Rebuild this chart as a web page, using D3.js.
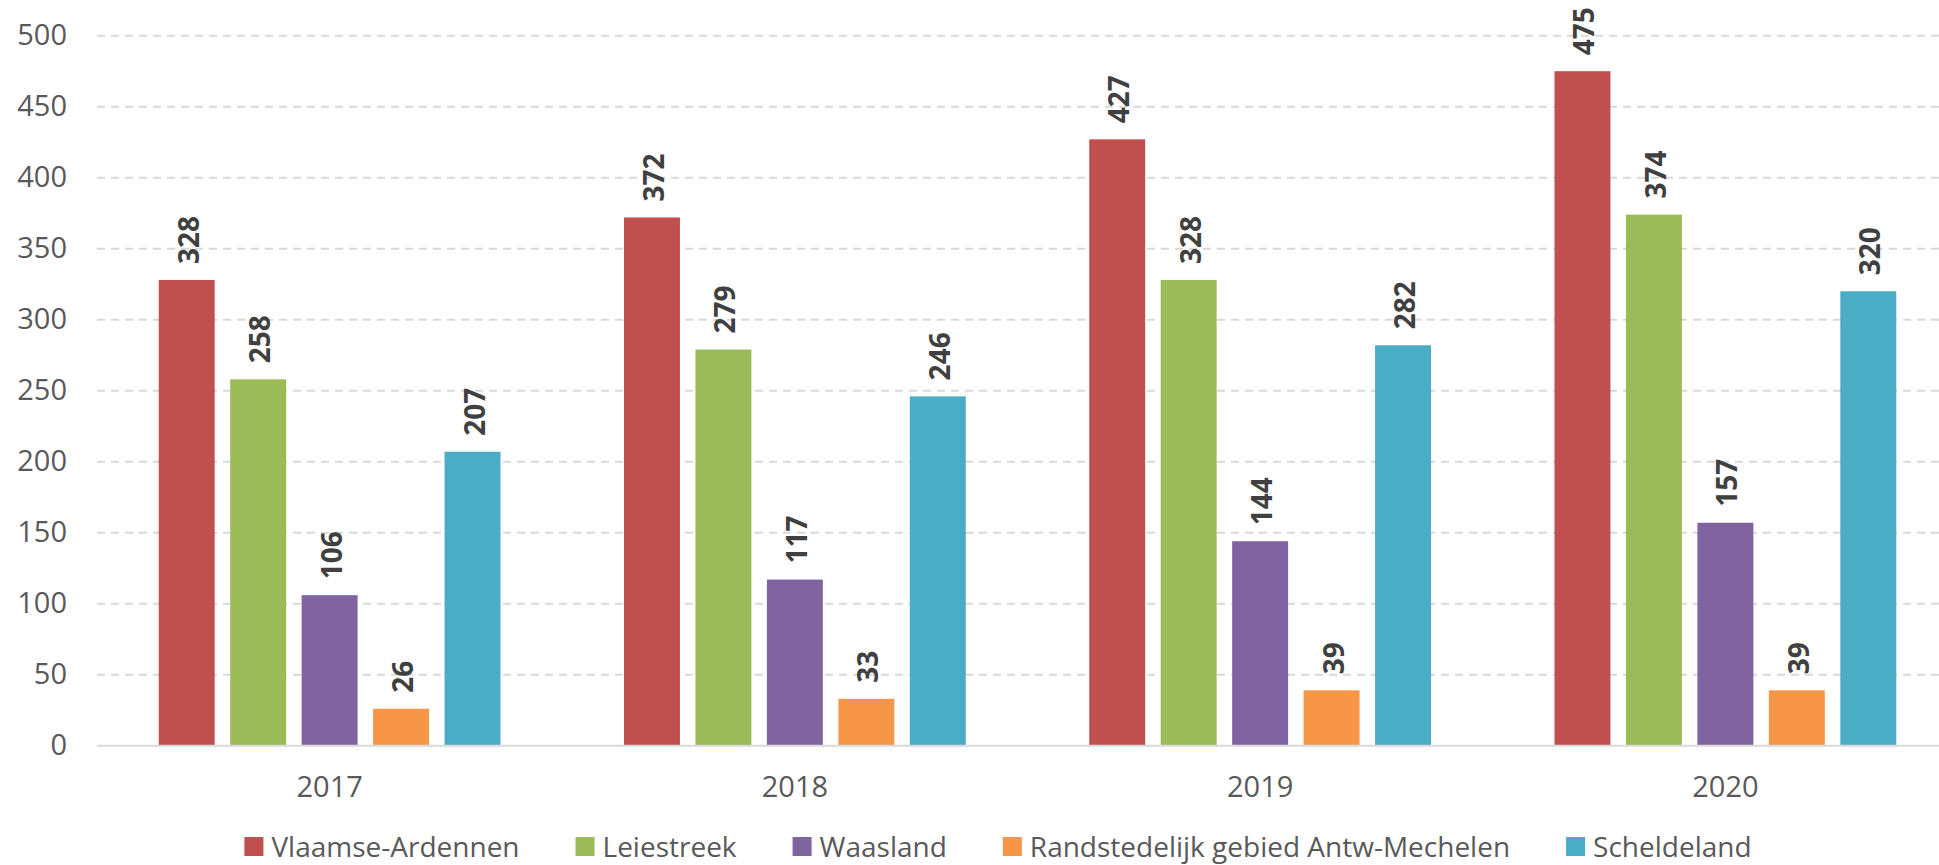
<!DOCTYPE html>
<html lang="nl">
<head>
<meta charset="UTF-8">
<title>Staafdiagram regio's 2017-2020</title>
<script src="https://d3js.org/d3.v7.min.js"></script>
<style>
  html, body { margin: 0; padding: 0; background: #fff; }
  svg { display: block; font-family: "Open Sans", sans-serif; }
</style>
</head>
<body>
<script>
// data
const years = ["2017", "2018", "2019", "2020"];
const regions = ["Vlaamse-Ardennen", "Leiestreek", "Waasland", "Randstedelijk gebied Antw-Mechelen", "Scheldeland"];
const vlaamseArdennen = [328, 372, 427, 475];
const leiestreek = [258, 279, 328, 374];
const waasland = [106, 117, 144, 157];
const randstedelijk = [26, 33, 39, 39];
const scheldeland = [207, 246, 282, 320];
const yTicks = [0, 50, 100, 150, 200, 250, 300, 350, 400, 450, 500];
const colors = ["#c0504d", "#9bbb59", "#8064a2", "#f79646", "#4bacc6"];

const seriesValues = [vlaamseArdennen, leiestreek, waasland, randstedelijk, scheldeland];

const width = 1939, height = 865;

const svg = d3.select("body").append("svg")
  .attr("width", width)
  .attr("height", height);

// scales
const x0 = d3.scaleBand()
  .domain(years)
  .range([97, 1958]);

const x1 = d3.scaleBand()
  .domain(regions)
  .range([0, x0.bandwidth()])
  .paddingInner(0.217)
  .paddingOuter(0.864);

const y = d3.scaleLinear()
  .domain([0, 500])
  .range([745.7, 35.7]);

const color = d3.scaleOrdinal().domain(regions).range(colors);

// gridlines
svg.append("g")
  .selectAll("line")
  .data(yTicks.filter(d => d > 0))
  .join("line")
  .attr("x1", 97)
  .attr("x2", 1958)
  .attr("y1", d => y(d))
  .attr("y2", d => y(d))
  .attr("stroke", "#d9d9d9")
  .attr("stroke-width", 2)
  .attr("stroke-dasharray", "8,6");

// y axis labels
const yAxis = d3.axisLeft(y).tickValues(yTicks).tickSize(0).tickPadding(0);
svg.append("g")
  .attr("transform", "translate(67,0)")
  .call(yAxis)
  .call(g => g.select(".domain").remove())
  .call(g => g.selectAll("text")
    .attr("font-family", "Open Sans, sans-serif")
    .attr("font-size", 29)
    .attr("fill", "#595959"));

// bars
const rows = years.map((yr, i) => regions.map((r, j) => ({ year: yr, region: r, value: seriesValues[j][i] })));

const group = svg.append("g")
  .selectAll("g")
  .data(rows)
  .join("g")
  .attr("transform", (d, i) => `translate(${x0(years[i])},0)`);

group.selectAll("rect")
  .data(d => d)
  .join("rect")
  .attr("x", d => x1(d.region))
  .attr("y", d => y(d.value))
  .attr("width", x1.bandwidth())
  .attr("height", d => y(0) - y(d.value))
  .attr("fill", d => color(d.region));

group.selectAll("text")
  .data(d => d)
  .join("text")
  .attr("transform", d => `translate(${x1(d.region) + x1.bandwidth() / 2 + 12},${y(d.value) - 16}) rotate(-90)`)
  .attr("font-size", 28)
  .attr("font-weight", "bold")
  .attr("fill", "#404040")
  .text(d => d.value);

// baseline
svg.append("line")
  .attr("x1", 97)
  .attr("x2", 1958)
  .attr("y1", y(0))
  .attr("y2", y(0))
  .attr("stroke", "#d9d9d9")
  .attr("stroke-width", 2);

// x axis labels
const xAxis = d3.axisBottom(x0).tickSize(0).tickPadding(0);
svg.append("g")
  .attr("transform", "translate(0,797)")
  .call(xAxis)
  .call(g => g.select(".domain").remove())
  .call(g => g.selectAll("text")
    .attr("dy", 0)
    .attr("font-family", "Open Sans, sans-serif")
    .attr("font-size", 29)
    .attr("fill", "#595959"));

// legend
const legend = svg.append("g");
const items = legend.selectAll("g")
  .data(regions)
  .join("g");

items.append("rect")
  .attr("width", 19)
  .attr("height", 19)
  .attr("y", 837)
  .attr("fill", d => color(d));

items.append("text")
  .attr("x", 27)
  .attr("y", 857)
  .attr("font-size", 28)
  .attr("fill", "#595959")
  .text(d => d);

let widths = [];
items.each(function () {
  widths.push(27 + d3.select(this).select("text").node().getComputedTextLength());
});
const gap = 56;
const total = d3.sum(widths) + gap * (widths.length - 1);
let cx = 998 - total / 2;
items.attr("transform", (d, i) => {
  const t = `translate(${cx},0)`;
  cx += widths[i] + gap;
  return t;
});
</script>
</body>
</html>
